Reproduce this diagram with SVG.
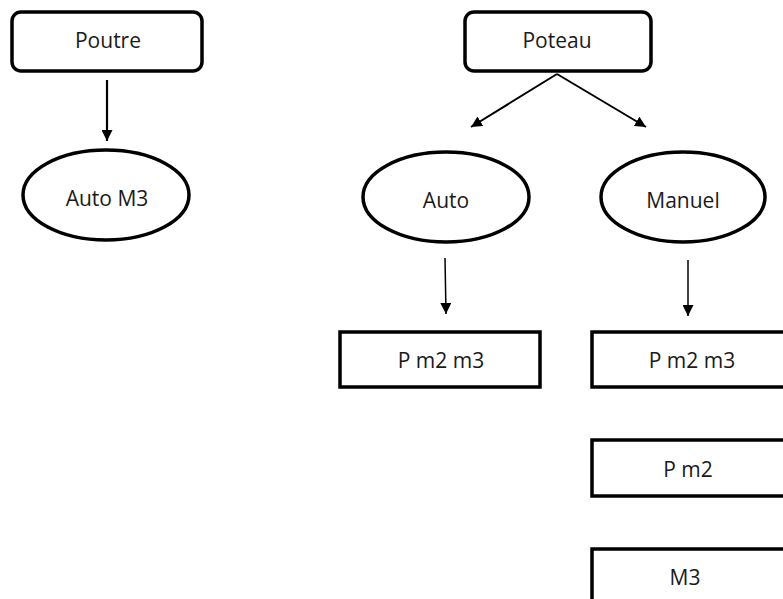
<svg xmlns="http://www.w3.org/2000/svg" width="783" height="599" viewBox="0 0 783 599">
<style>
.box{fill:#fff;stroke:#000;stroke-width:3.5}
.ell{fill:#fff;stroke:#000;stroke-width:3.5}
.t{font-family:"Open Sans","Noto Sans",sans-serif;font-size:21px;fill:#1a1a1a;text-anchor:middle}
.c{stroke:#000;fill:none}
</style>
<defs>
<marker id="ah" viewBox="0 0 10 10" refX="10" refY="5" markerWidth="11" markerHeight="11" markerUnits="userSpaceOnUse" orient="auto">
<path d="M0,0 L10,5 L0,10 z" fill="#000"/>
</marker>
<marker id="ahs" viewBox="0 0 10 10" refX="10" refY="5" markerWidth="12" markerHeight="11" markerUnits="userSpaceOnUse" orient="auto">
<path d="M0,0 L10,5 L0,10 z" fill="#000"/>
</marker>
</defs>
<rect width="783" height="599" fill="#fff"/>
<g id="connectors">
<line class="c" x1="107" y1="80" x2="107" y2="141" stroke-width="2.2" marker-end="url(#ah)"/>
<line class="c" x1="557" y1="74" x2="471" y2="127" stroke-width="2" marker-end="url(#ah)"/>
<line class="c" x1="557" y1="74" x2="646" y2="127" stroke-width="2" marker-end="url(#ah)"/>
<line class="c" x1="445" y1="258" x2="446" y2="314" stroke-width="1.5" marker-end="url(#ahs)"/>
<line class="c" x1="688" y1="260" x2="688" y2="316" stroke-width="1.5" marker-end="url(#ahs)"/>
</g>
<g id="poutre">
<rect class="box" x="12" y="12" width="190" height="59" rx="9"/>
<text class="t" x="108" y="48">Poutre</text>
</g>
<g id="auto-m3">
<ellipse class="ell" cx="106" cy="195" rx="83" ry="45"/>
<text class="t" x="107" y="206">Auto M3</text>
</g>
<g id="poteau">
<rect class="box" x="465" y="12" width="186" height="59" rx="9"/>
<text class="t" x="557" y="48">Poteau</text>
</g>
<g id="auto">
<ellipse class="ell" cx="446" cy="197" rx="83" ry="45"/>
<text class="t" x="446" y="208">Auto</text>
</g>
<g id="manuel">
<ellipse class="ell" cx="683" cy="197" rx="82" ry="45"/>
<text class="t" x="683" y="208">Manuel</text>
</g>
<g id="auto-pm2m3">
<rect class="box" x="340" y="332" width="200" height="55"/>
<text class="t" x="441" y="368">P m2 m3</text>
</g>
<g id="manuel-pm2m3">
<rect class="box" x="592" y="332" width="200" height="55"/>
<text class="t" x="692" y="368">P m2 m3</text>
</g>
<g id="manuel-pm2">
<rect class="box" x="592" y="440" width="200" height="56"/>
<text class="t" x="688" y="477">P m2</text>
</g>
<g id="manuel-m3">
<rect class="box" x="592" y="549" width="200" height="60"/>
<text class="t" x="685" y="585">M3</text>
</g>
</svg>
